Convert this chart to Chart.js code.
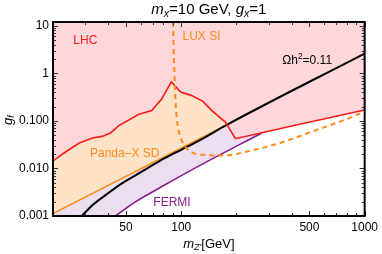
<!DOCTYPE html>
<html>
<head>
<meta charset="utf-8">
<script src="https://cdn.jsdelivr.net/npm/chart.js@4/dist/chart.umd.min.js"></script>
<style>
html,body{margin:0;padding:0;background:#fff;}
canvas{display:block;}
</style>
</head>
<body>
<canvas id="c" width="382" height="254"></canvas>
<script>
// ---- data (m_Z' in GeV, g_f) ----
const lhcX   = [20, 23.6, 27.8, 32.8, 37.1, 41.2, 45.7, 58.5, 69.0, 78.1, 88.3, 99.2, 113.2, 130.8, 148.1, 174.6, 197.5, 424, 1000];
const lhcY   = [0.0144, 0.0227, 0.0342, 0.0437, 0.0472, 0.0557, 0.0794, 0.136, 0.165, 0.283, 0.664, 0.404, 0.344, 0.260, 0.160, 0.0933, 0.0422, 0.0818, 0.170];

const luxX   = [90.2, 91.3, 93.0, 94.8, 98.0, 102.1, 108.6, 130.8, 171.1, 228.3, 344.8, 521, 787, 1000];
const luxY   = [12, 1.99, 0.283, 0.107, 0.0513, 0.0347, 0.0247, 0.0193, 0.0187, 0.0227, 0.0342, 0.0603, 0.107, 0.157];

const pandaX = [20, 122.9, 178.2];
const pandaY = [0.00112, 0.0402, 0.0835];

const relicX = [28.7, 32.8, 38.7, 47.5, 60.9, 78.1, 100, 122.9, 178.2, 1000];
const relicY = [0.001, 0.00169, 0.00275, 0.00485, 0.00855, 0.0151, 0.0247, 0.0370, 0.0835, 2.60];

const fermiX = [43.8, 56.2, 78.1, 122.9, 275];
const fermiY = [0.001, 0.00198, 0.00411, 0.0109, 0.0557];

const xTicks = [50, 100, 500, 1000];
const xTickLabels = ['50', '100', '500', '1000'];
const yTicks = [0.001, 0.01, 0.1, 1, 10];
const yTickLabels = ['0.001', '0.010', '0.100', '1', '10'];

const xRange = [20, 1000];
const yRange = [0.001, 12];

// ---- helpers ----
const pts = (xs, ys) => xs.map((x, i) => ({x: x, y: ys[i]}));
const FONT = '"Liberation Sans", Arial, sans-serif';

const RED = '#ff1a1a', ORANGE = '#ff8c1a', PURPLE = '#8a1a8a', BLACK = '#000000';
const PINK_FILL = '#ffd7db', PEACH_FILL = '#fee3c9', LAV_FILL = '#ebdfef';

const datasets = [
  // lines (drawn on top)
  {label: 'LUX SI', data: pts(luxX, luxY), borderColor: ORANGE, borderWidth: 2, borderDash: [5, 4],
   showLine: true, pointRadius: 0, fill: false, cubicInterpolationMode: 'monotone', order: 0},
  {label: 'LHC', data: pts(lhcX, lhcY), borderColor: RED, borderWidth: 1.6,
   showLine: true, pointRadius: 0, fill: false, tension: 0, order: 1},
  {label: 'relic', data: pts(relicX, relicY), borderColor: BLACK, borderWidth: 2,
   showLine: true, pointRadius: 0, fill: false, cubicInterpolationMode: 'monotone', order: 2},
  {label: 'FERMI', data: pts(fermiX, fermiY), borderColor: PURPLE, borderWidth: 1.6,
   showLine: true, pointRadius: 0, fill: false, cubicInterpolationMode: 'monotone', order: 3},
  {label: 'Panda-X SD', data: pts(pandaX, pandaY), borderColor: ORANGE, borderWidth: 1.6,
   showLine: true, pointRadius: 0, fill: false, tension: 0, order: 4},
  // filled regions (drawn underneath)
  {label: 'LHC fill', data: pts(lhcX, lhcY), borderColor: 'rgba(0,0,0,0)', borderWidth: 0,
   backgroundColor: PINK_FILL, showLine: true, pointRadius: 0, fill: 'end', tension: 0, order: 10},
  {label: 'Panda fill', data: pts(pandaX, pandaY), borderColor: 'rgba(0,0,0,0)', borderWidth: 0,
   backgroundColor: PEACH_FILL, showLine: true, pointRadius: 0, fill: 'end', tension: 0, order: 11},
  {label: 'FERMI fill', data: pts([xRange[0]].concat(fermiX), [yRange[0]].concat(fermiY)),
   borderColor: 'rgba(0,0,0,0)', borderWidth: 0,
   backgroundColor: LAV_FILL, showLine: true, pointRadius: 0, fill: 'end', cubicInterpolationMode: 'monotone', order: 12}
];

function richWidth(ctx, parts, size) {
  let w = 0;
  parts.forEach(p => {
    const s = p.sub || p.sup ? size * 0.7 : size;
    ctx.font = (p.it ? 'italic ' : '') + s + 'px ' + FONT;
    w += ctx.measureText(p.t).width;
  });
  return w;
}
function drawRich(ctx, parts, x, y, size, color, align) {
  const w = richWidth(ctx, parts, size);
  let cx = align === 'center' ? x - w / 2 : x;
  ctx.fillStyle = color;
  ctx.textBaseline = 'middle';
  ctx.textAlign = 'left';
  parts.forEach(p => {
    const s = p.sub || p.sup ? size * 0.7 : size;
    ctx.font = (p.it ? 'italic ' : '') + s + 'px ' + FONT;
    const dy = p.sub ? size * 0.3 : (p.sup ? -size * 0.35 : 0);
    ctx.fillText(p.t, cx, y + dy);
    cx += ctx.measureText(p.t).width;
  });
}

const decorPlugin = {
  id: 'decor',
  afterDatasetsDraw(chart) {
    const ctx = chart.ctx, xs = chart.scales.x, ys = chart.scales.y;
    const a = chart.chartArea;
    ctx.save();
    // in-plot labels (anchored in data coordinates)
    const lab = (t, x, y, color) => drawRich(ctx, t, xs.getPixelForValue(x), ys.getPixelForValue(y), 12, color, 'center');
    lab([{t: 'LHC'}], 30.0, 4.79, RED);
    lab([{t: 'LUX SI'}], 129, 5.82, ORANGE);
    lab([{t: '\u03A9h'}, {t: '2', sup: true}, {t: '=0.11'}], 486, 1.80, BLACK);
    lab([{t: 'Panda\u2013X SD'}], 49.2, 0.0203, ORANGE);
    lab([{t: 'FERMI'}], 89.1, 0.00195, PURPLE);

    // inward tick marks on all four sides
    ctx.strokeStyle = '#333';
    ctx.lineWidth = 1;
    const xt = [];
    for (let d = 10; d <= 1000; d *= 10) for (let m = 1; m < 10; m++) { const v = d * m; if (v >= xRange[0] && v <= xRange[1]) xt.push(v); }
    xt.forEach(v => {
      const px = Math.round(xs.getPixelForValue(v)) + 0.5;
      const L = xTicks.includes(v) ? 5 : 3;
      ctx.beginPath();
      ctx.moveTo(px, a.bottom); ctx.lineTo(px, a.bottom - L);
      ctx.moveTo(px, a.top); ctx.lineTo(px, a.top + L);
      ctx.stroke();
    });
    const yt = [];
    for (let d = 0.001; d <= 10.0001; d *= 10) for (let m = 1; m < 10; m++) { const v = d * m; if (v >= yRange[0] * 0.999 && v <= yRange[1]) yt.push(v); }
    yt.forEach((v, i) => {
      const py = Math.round(ys.getPixelForValue(v)) + 0.5;
      const L = (i % 9 === 0) ? 5 : 3;
      ctx.beginPath();
      ctx.moveTo(a.left, py); ctx.lineTo(a.left + L, py);
      ctx.moveTo(a.right, py); ctx.lineTo(a.right - L, py);
      ctx.stroke();
    });
    // frame
    ctx.strokeStyle = '#000';
    ctx.lineWidth = 2;
    ctx.strokeRect(a.left, a.top, a.right - a.left, a.bottom - a.top);

    // title
    drawRich(ctx, [{t: 'm', it: true}, {t: 'x', it: true, sub: true}, {t: '=10 GeV, '},
                   {t: 'g', it: true}, {t: 'x', it: true, sub: true}, {t: '=1'}],
             (a.left + a.right) / 2, 10, 15, '#000', 'center');
    // x axis title
    drawRich(ctx, [{t: 'm', it: true}, {t: "Z'", it: true, sub: true}, {t: '[GeV]'}],
             (a.left + a.right) / 2, 244, 13, '#000', 'center');
    // y axis title (rotated)
    ctx.save();
    ctx.translate(8, (a.top + a.bottom) / 2 + 1);
    ctx.rotate(-Math.PI / 2);
    drawRich(ctx, [{t: 'g', it: true}, {t: 'f', it: true, sub: true}], 0, 0, 13, '#000', 'center');
    ctx.restore();
    ctx.restore();
  }
};

new Chart(document.getElementById('c'), {
  type: 'scatter',
  data: {datasets: datasets},
  plugins: [decorPlugin],
  options: {
    responsive: false,
    animation: false,
    devicePixelRatio: 1,
    layout: {padding: {top: 22, right: 14, left: 0, bottom: 0}},
    plugins: {legend: {display: false}, tooltip: {enabled: false}, title: {display: false},
              filler: {propagate: false}},
    scales: {
      x: {
        type: 'logarithmic', min: xRange[0], max: xRange[1],
        grid: {display: false, drawTicks: false}, border: {display: false},
        afterBuildTicks: s => { s.ticks = xTicks.map(v => ({value: v})); },
        afterFit: s => { s.height = 38; },
        ticks: {color: '#000', padding: 4, maxRotation: 0, autoSkip: false,
                font: {family: FONT, size: 12},
                callback: (v) => { const i = xTicks.indexOf(v); return i >= 0 ? xTickLabels[i] : ''; }}
      },
      y: {
        type: 'logarithmic', min: yRange[0], max: yRange[1],
        grid: {display: false, drawTicks: false}, border: {display: false},
        afterBuildTicks: s => { s.ticks = yTicks.map(v => ({value: v})); },
        afterFit: s => { s.width = 53; },
        ticks: {color: '#000', padding: 4, autoSkip: false,
                font: {family: FONT, size: 12},
                callback: (v) => { const i = yTicks.findIndex(t => Math.abs(t - v) / t < 1e-6); return i >= 0 ? yTickLabels[i] : ''; }}
      }
    }
  }
});
</script>
</body>
</html>
